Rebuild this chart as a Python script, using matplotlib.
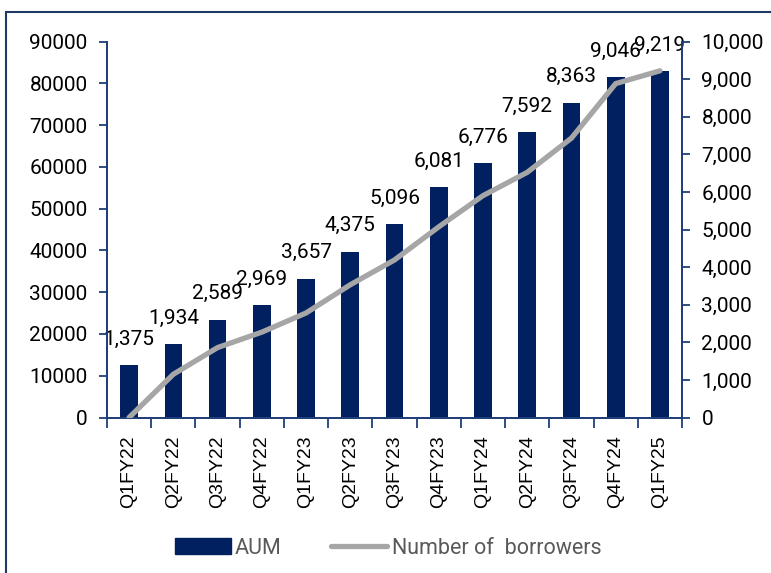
import matplotlib
matplotlib.use("Agg")
import matplotlib.pyplot as plt
from matplotlib.patches import Rectangle
from matplotlib.lines import Line2D
from matplotlib.font_manager import fontManager

quarters = ['Q1FY22', 'Q2FY22', 'Q3FY22', 'Q4FY22', 'Q1FY23', 'Q2FY23', 'Q3FY23',
            'Q4FY23', 'Q1FY24', 'Q2FY24', 'Q3FY24', 'Q4FY24', 'Q1FY25']
aum = [12500, 17550, 23450, 26900, 33150, 39700, 46200,
       55100, 60900, 68300, 75300, 81400, 82900]
borrowers = [0, 1150, 1860, 2270, 2780, 3530, 4190,
             5070, 5900, 6520, 7430, 8880, 9220]
bar_labels = ['1,375', '1,934', '2,589', '2,969', '3,657', '4,375', '5,096',
              '6,081', '6,776', '7,592', '8,363', '9,046', '9,219']

names = {f.name for f in fontManager.ttflist}
narrow = 'Liberation Sans Narrow' if 'Liberation Sans Narrow' in names else 'Roboto'
plt.rcParams['font.family'] = [narrow, 'DejaVu Sans']

navy = '#002060'
spine = '#1F3F7A'
grey = '#A6A6A6'

fig = plt.figure(figsize=(7.71, 5.73), dpi=100)
ax = fig.add_axes([107 / 771, 1 - 417.5 / 573, (682 - 107) / 771, (417.5 - 41.5) / 573])
ax2 = ax.twinx()

x = list(range(len(quarters)))
ax.bar(x, aum, width=0.4, color=navy, zorder=2)
ax2.plot(x, borrowers, color=grey, lw=3.8, solid_capstyle='round', zorder=3)

for xi, h, lab in zip(x, aum, bar_labels):
    ax.annotate(lab, (xi, h), xytext=(0, 12), textcoords='offset points',
                ha='center', va='bottom', fontsize=15)

ax.set_xlim(-0.5, len(quarters) - 0.5)
ax.set_ylim(0, 90000)
ax.set_yticks(range(0, 90001, 10000))
ax.set_yticklabels([str(v) for v in range(0, 90001, 10000)], fontsize=15)
ax2.set_ylim(0, 10000)
ax2.set_yticks(range(0, 10001, 1000))
ax2.set_yticklabels([f'{v:,}' for v in range(0, 10001, 1000)], fontsize=15)

ax.set_xticks(x)
ax.set_xticklabels(quarters, rotation=90, fontsize=14, family=['Liberation Sans', 'DejaVu Sans'])
ax.set_xticks([i - 0.5 for i in range(len(quarters) + 1)], minor=True)
ax.tick_params(axis='x', which='major', length=0, pad=13)
ax.tick_params(axis='x', which='minor', length=7, color=spine, width=1.3, direction='out')
ax.tick_params(axis='y', length=6, color=spine, width=1.3, pad=8)
ax2.tick_params(axis='y', length=6, color=spine, width=1.3, pad=8)

for a in (ax, ax2):
    a.spines['top'].set_visible(False)
    for s in ('left', 'right', 'bottom'):
        a.spines[s].set_color(spine)
        a.spines[s].set_linewidth(1.3)

handles = [Rectangle((0, 0), 1, 1, color=navy),
           Line2D([0], [0], color=grey, lw=3.8, solid_capstyle='round')]
fig.legend(handles, ['AUM', 'Number of  borrowers'], loc='center',
           bbox_to_anchor=(388 / 771, 1 - 548 / 573), ncol=2, frameon=False,
           fontsize=15.5, labelcolor='#595959', handlelength=2.6, handletextpad=0.2,
           columnspacing=2.3)

fig.patches.append(Rectangle((6 / 771, -0.05), 1.1, 1 - 12 / 573 + 0.05,
                             transform=fig.transFigure, fill=False,
                             edgecolor='#1F3864', lw=1.5))

fig.savefig('out.png', dpi=100)
